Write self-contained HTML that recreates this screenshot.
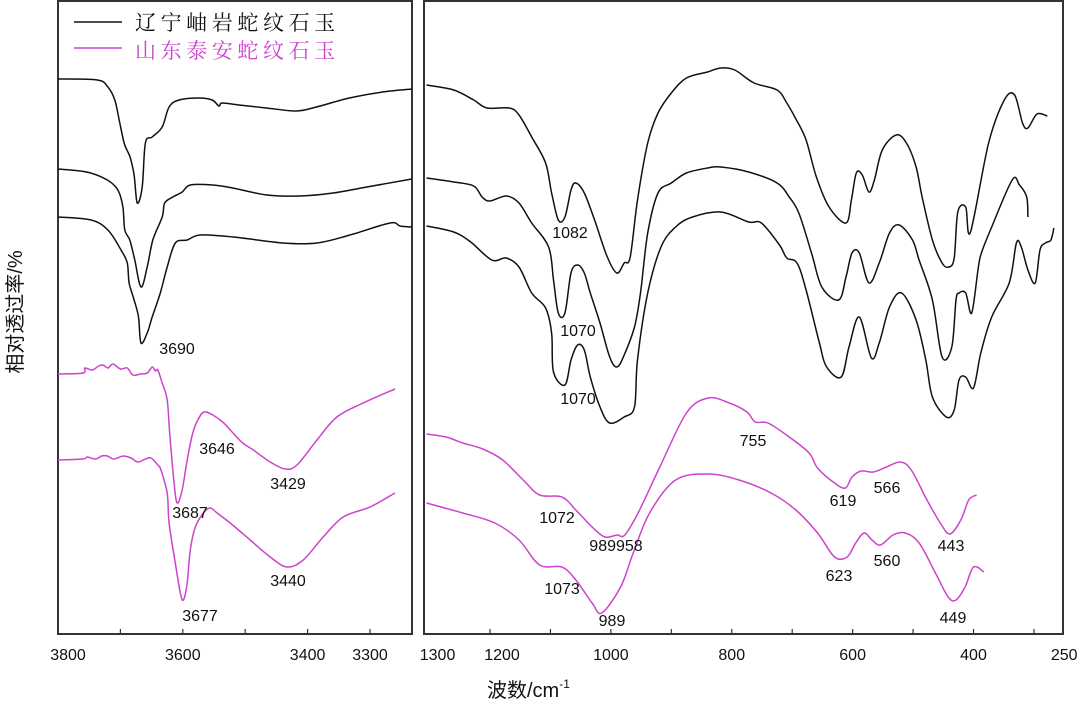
<!DOCTYPE html>
<html><head><meta charset="utf-8">
<style>
html,body{margin:0;padding:0;background:#fff;}
svg{display:block;}
text{font-family:"Liberation Sans","Noto Sans CJK SC",sans-serif;}
</style></head>
<body>
<svg id="chart" width="1080" height="727" viewBox="0 0 1080 727" xmlns="http://www.w3.org/2000/svg">
  <g id="frames">
    <rect x="58" y="1" width="354" height="633" fill="none" stroke="#333" stroke-width="2"/>
    <rect x="424" y="1" width="639" height="633" fill="none" stroke="#333" stroke-width="2"/>
  </g>
  <g id="ticks"></g>
  <g id="ticklabels" font-size="16" fill="#111"></g>
  <g id="series"></g>
  <g id="peaklabels" font-size="16" fill="#111"></g>
  <g>
    <line x1="74" y1="22" x2="122" y2="22" stroke="#111" stroke-width="1.5"/>
    <text x="135" y="30" font-size="21" letter-spacing="4.6" fill="#111" style='font-family:"Noto Serif CJK SC",serif'>辽宁岫岩蛇纹石玉</text>
    <line x1="74" y1="48" x2="122" y2="48" stroke="#cc44cc" stroke-width="1.5"/>
    <text x="135" y="58" font-size="21" letter-spacing="4.6" fill="#cc44cc" style='font-family:"Noto Serif CJK SC",serif'>山东泰安蛇纹石玉</text>
  </g>
  <text x="487" y="697" font-size="20" fill="#111">波数/cm<tspan font-size="12" dy="-9">-1</tspan></text>
  <text transform="translate(22,312) rotate(-90)" text-anchor="middle" font-size="20" fill="#111">相对透过率/%</text>
</svg>
<script>
// ---- data (wavenumber cm-1, transmittance a.u.) ----
const leftTicks = [3800, 3700, 3600, 3500, 3400, 3300];
const leftTickLabels = ["3800", "3600", "3400", "3300"];
const rightTicks = [1200, 1100, 1000, 900, 800, 700, 600, 500, 400, 300];
const rightTickLabels = ["1300", "1200", "1000", "800", "600", "400", "250"];

const hiLiaoningA = [[3800,555],[3737,554],[3720,547],[3709,534],[3701,511],[3694,491],[3688,482],[3684,476],[3678,459],[3673,431],[3665,447],[3660,491],[3649,497],[3633,507],[3622,527],[3606,534],[3574,536],[3553,534],[3542,528],[3537,531],[3510,529],[3466,526],[3418,523],[3386,527],[3333,536],[3280,542],[3233,545]];
const hiLiaoningB = [[3800,465],[3754,462],[3721,454],[3704,444],[3696,427],[3693,404],[3685,394],[3677,374],[3667,347],[3657,367],[3648,394],[3633,417],[3629,431],[3616,437],[3601,442],[3588,449],[3552,449],[3520,446],[3465,439],[3412,438],[3359,441],[3305,447],[3233,455]];
const hiLiaoningC = [[3800,417],[3747,414],[3720,404],[3699,384],[3689,371],[3686,351],[3678,334],[3671,317],[3667,291],[3657,301],[3649,317],[3636,341],[3625,367],[3612,391],[3593,394],[3572,399],[3519,397],[3439,391],[3385,391],[3332,399],[3268,411],[3252,408],[3233,407]];
const hiShandongA = [[3800,260],[3760,261],[3757,266],[3745,264],[3735,268],[3728,269],[3720,266],[3712,270],[3700,265],[3689,266],[3680,259],[3668,260],[3657,261],[3649,267],[3644,263],[3640,264],[3633,251],[3625,234],[3621,201],[3614,151],[3609,131],[3601,144],[3593,174],[3584,201],[3576,214],[3566,222],[3552,219],[3536,212],[3521,202],[3504,191],[3487,184],[3460,172],[3436,165],[3417,169],[3385,194],[3353,217],[3311,231],[3260,245]];
const hiShandongB = [[3800,174],[3760,175],[3753,177],[3740,175],[3730,178],[3721,178],[3712,175],[3705,176],[3695,178],[3683,176],[3672,172],[3660,175],[3651,176],[3640,169],[3635,164],[3625,141],[3622,111],[3612,71],[3604,41],[3599,34],[3593,51],[3588,84],[3580,107],[3567,121],[3556,126],[3545,121],[3524,111],[3492,94],[3460,77],[3433,67],[3407,74],[3375,97],[3343,117],[3300,127],[3260,141]];

const loLiaoningA = [[1305,549],[1260,544],[1227,534],[1205,526],[1168,526],[1152,519],[1131,497],[1108,471],[1098,441],[1087,414],[1076,417],[1066,444],[1058,451],[1044,441],[1027,414],[1006,377],[990,361],[978,371],[968,377],[956,434],[939,491],[922,521],[900,541],[875,556],[840,562],[818,566],[795,564],[763,551],[725,544],[709,531],[693,514],[677,494],[660,457],[639,427],[611,411],[602,434],[594,461],[584,459],[573,442],[564,454],[551,484],[528,499],[511,491],[495,467],[485,437],[468,394],[452,371],[441,367],[432,376],[426,422],[413,427],[405,402],[375,491],[349,534],[332,539],[319,511],[310,506],[295,520],[278,518]];
const loLiaoningB = [[1305,456],[1260,452],[1227,448],[1213,437],[1200,433],[1173,438],[1152,431],[1131,411],[1103,387],[1095,354],[1087,321],[1076,321],[1066,361],[1055,369],[1044,361],[1034,341],[1018,311],[1002,277],[990,267],[978,279],[961,307],[951,341],[939,401],[922,441],[900,451],[875,461],[840,466],[818,467],[772,462],[725,451],[705,437],[689,421],[668,381],[651,347],[623,334],[611,357],[601,381],[589,381],[573,351],[556,371],[539,401],[523,409],[501,394],[490,374],[468,334],[452,277],[436,287],[429,334],[424,341],[413,341],[403,321],[392,367],[387,381],[370,407],[336,454],[324,449],[312,437],[310,417]];
const loLiaoningC = [[1305,408],[1260,402],[1232,392],[1197,374],[1173,376],[1152,367],[1131,341],[1108,326],[1098,301],[1095,262],[1076,249],[1066,274],[1055,289],[1044,284],[1034,257],[1018,227],[1002,211],[978,217],[961,227],[956,274],[939,341],[917,387],[893,407],[865,417],[818,422],[772,412],[751,411],[721,389],[709,376],[692,371],[677,344],[655,291],[643,267],[619,257],[606,287],[589,317],[569,276],[556,291],[539,327],[519,341],[495,314],[479,274],[468,237],[445,217],[432,224],[424,254],[413,257],[400,246],[388,281],[370,317],[341,351],[329,391],[321,387],[310,364],[298,351],[290,384],[281,391],[272,394],[267,406]];
const loShandongA = [[1305,200],[1273,197],[1245,191],[1212,185],[1179,174],[1145,154],[1118,139],[1081,137],[1058,124],[1031,107],[1010,97],[990,99],[977,99],[955,121],[919,167],[875,221],[839,236],[804,231],[775,222],[761,212],[740,211],[705,197],[672,181],[658,166],[630,151],[612,146],[601,157],[586,163],[566,162],[544,167],[521,172],[503,164],[477,134],[455,111],[439,100],[421,114],[408,134],[395,139]];
const loShandongB = [[1305,131],[1245,121],[1192,111],[1152,94],[1118,69],[1081,67],[1058,54],[1031,31],[1015,21],[984,47],[963,81],[936,121],[893,154],[839,160],[788,154],[735,141],[694,124],[658,101],[630,77],[609,77],[595,91],[581,101],[568,94],[554,89],[533,99],[513,101],[490,91],[463,61],[442,37],[429,34],[414,47],[400,67],[383,62]];

const peakLabels = ["3690","3646","3687","3429","3440","3677","1082","1070","1070","755","1072","989958","619","566","443","1073","623","560","989","449"];

// ---- scales ----
function xLeft(wn){ return 58 + (3800 - wn) * 0.624; }
function xRight(wn){ return 490 + (1200 - wn) * 0.6044; }
function yScale(v){ return 634 - v; }

const NS = "http://www.w3.org/2000/svg";
function mk(tag, parent){ const e = document.createElementNS(NS, tag); parent.appendChild(e); return e; }

// ticks
const tg = document.getElementById('ticks');
leftTicks.forEach(function(t){
  const l = mk('line', tg);
  
  
  const x = xLeft(t);
  l.setAttribute('x1', x); l.setAttribute('x2', x);
  l.setAttribute('y1', 634); l.setAttribute('y2', 629);
  l.setAttribute('stroke', '#333'); l.setAttribute('stroke-width', '1.2');
});
rightTicks.forEach(function(t){
  const l = mk('line', tg);
  
  
  const x = xRight(t);
  l.setAttribute('x1', x); l.setAttribute('x2', x);
  l.setAttribute('y1', 634); l.setAttribute('y2', 629);
  l.setAttribute('stroke', '#333'); l.setAttribute('stroke-width', '1.2');
});

// tick labels
const lg = document.getElementById('ticklabels');
leftTickLabels.forEach(function(s){
  const t = mk('text', lg);
  
  
  let x = xLeft(+s);
  if (+s === 3800) x += 10;
  t.setAttribute('x', x); t.setAttribute('y', 660);
  t.setAttribute('text-anchor', 'middle');
  t.textContent = s;
});
rightTickLabels.forEach(function(s){
  const t = mk('text', lg);
  
  
  let x = xRight(+s);
  if (+s === 1300) x += 8;
  if (+s === 1200) x += 12;
  t.setAttribute('x', x); t.setAttribute('y', 660);
  t.setAttribute('text-anchor', 'middle');
  t.textContent = s;
});

// series (Catmull-Rom smoothed)
const sg = document.getElementById('series');
function drawSeries(data, xs, color, name){
  const p = mk('path', sg);
  
  
  const pts = data.map(function(pt){ return [xs(pt[0]), yScale(pt[1])]; });
  let d = 'M' + pts[0][0].toFixed(1) + ',' + pts[0][1].toFixed(1);
  const k = 0.5 / 3;
  for (let i = 0; i < pts.length - 1; i++) {
    const p0 = pts[i > 0 ? i - 1 : i], p1 = pts[i], p2 = pts[i + 1], p3 = pts[i + 2 < pts.length ? i + 2 : i + 1];
    const c1x = p1[0] + (p2[0] - p0[0]) * k, c1y = p1[1] + (p2[1] - p0[1]) * k;
    const c2x = p2[0] - (p3[0] - p1[0]) * k, c2y = p2[1] - (p3[1] - p1[1]) * k;
    d += 'C' + c1x.toFixed(1) + ',' + c1y.toFixed(1) + ' ' + c2x.toFixed(1) + ',' + c2y.toFixed(1) + ' ' + p2[0].toFixed(1) + ',' + p2[1].toFixed(1);
  }
  p.setAttribute('d', d);
  p.setAttribute('fill', 'none');
  p.setAttribute('stroke', color);
  p.setAttribute('stroke-width', '1.5');
  p.setAttribute('stroke-linejoin', 'round');
}
drawSeries(hiLiaoningA, xLeft, '#111', 'liaoning-oh-spectrum-1');
drawSeries(hiLiaoningB, xLeft, '#111', 'liaoning-oh-spectrum-2');
drawSeries(hiLiaoningC, xLeft, '#111', 'liaoning-oh-spectrum-3');
drawSeries(hiShandongA, xLeft, '#cc44cc', 'shandong-oh-spectrum-1');
drawSeries(hiShandongB, xLeft, '#cc44cc', 'shandong-oh-spectrum-2');
drawSeries(loLiaoningA, xRight, '#111', 'liaoning-fingerprint-spectrum-1');
drawSeries(loLiaoningB, xRight, '#111', 'liaoning-fingerprint-spectrum-2');
drawSeries(loLiaoningC, xRight, '#111', 'liaoning-fingerprint-spectrum-3');
drawSeries(loShandongA, xRight, '#cc44cc', 'shandong-fingerprint-spectrum-1');
drawSeries(loShandongB, xRight, '#cc44cc', 'shandong-fingerprint-spectrum-2');

// peak labels (annotation placement)
const labelSpots = [[177,354],[217,454],[190,518],[288,489],[288,586],[200,621],[570,238],[578,336],[578,404],[753,446],[557,523],[616,551],[843,506],[887,493],[951,551],[562,594],[839,581],[887,566],[612,626],[953,623]];
const pg = document.getElementById('peaklabels');
peakLabels.forEach(function(s, i){
  const t = mk('text', pg);
  
  
  t.setAttribute('x', labelSpots[i][0]);
  t.setAttribute('y', labelSpots[i][1]);
  t.setAttribute('text-anchor', 'middle');
  t.textContent = s;
});
</script>
</body></html>
